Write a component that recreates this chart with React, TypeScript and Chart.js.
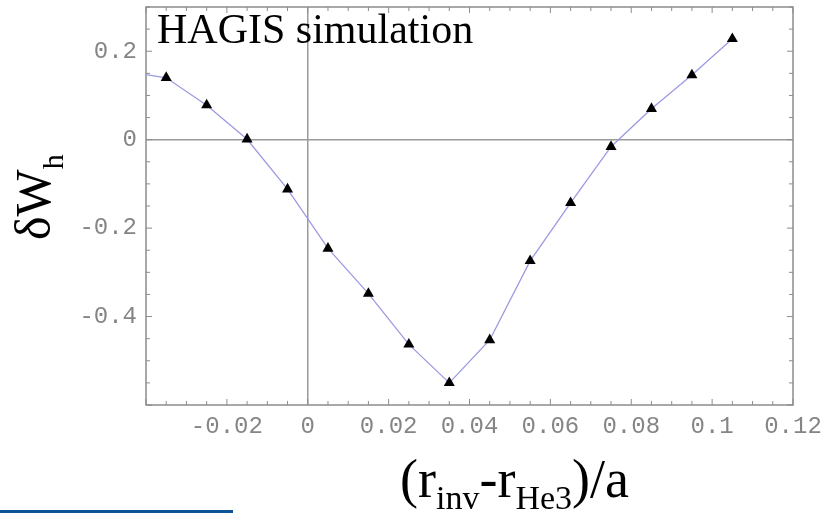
import React, { useEffect, useRef } from "react";
import { Chart, registerables } from "chart.js";

Chart.register(...registerables);

// ---- data ----
const xValues = [-0.035, -0.025, -0.015, -0.005, 0.005, 0.015, 0.025, 0.035, 0.045, 0.055, 0.065, 0.075, 0.085, 0.095, 0.105];
const yValues = [0.140, 0.078, 0.001, -0.112, -0.246, -0.348, -0.463, -0.550, -0.453, -0.274, -0.143, -0.016, 0.070, 0.146, 0.228];
const curveStartX = -0.04;
const curveStartY = 0.147;
const xTickLabels = [-0.02, 0, 0.02, 0.04, 0.06, 0.08, 0.1, 0.12];
const yTickLabels = [0.2, 0, -0.2, -0.4];
const xRange = [-0.04, 0.12];
const yRange = [-0.6, 0.3];
const xMinorStep = 0.005;
const xMajorStep = 0.02;
const yMinorStep = 0.05;
const yMajorStep = 0.2;
const plotTitle = "HAGIS simulation";

const isMajor = (v: number, step: number) => Math.abs(v / step - Math.round(v / step)) < 1e-6;

const framePlugin = {
  id: "mmaFrame",
  beforeDatasetsDraw(chart: any) {
    const { ctx, chartArea: a, scales } = chart;
    const x = scales.x;
    const y = scales.y;
    ctx.save();
    ctx.strokeStyle = "#9a9a9a";
    ctx.lineWidth = 1.5;
    const x0 = x.getPixelForValue(0);
    const y0 = y.getPixelForValue(0);
    ctx.beginPath();
    ctx.moveTo(x0, a.top);
    ctx.lineTo(x0, a.bottom);
    ctx.moveTo(a.left, y0);
    ctx.lineTo(a.right, y0);
    ctx.stroke();
    ctx.strokeStyle = "#8c8c8c";
    ctx.lineWidth = 1.5;
    ctx.strokeRect(a.left, a.top, a.right - a.left, a.bottom - a.top);
    ctx.lineWidth = 1;
    ctx.beginPath();
    const nx = Math.round((xRange[1] - xRange[0]) / xMinorStep);
    for (let i = 0; i <= nx; i++) {
      const v = xRange[0] + i * xMinorStep;
      const px = x.getPixelForValue(v);
      const len = isMajor(v, xMajorStep) ? 6 : 4;
      ctx.moveTo(px, a.bottom);
      ctx.lineTo(px, a.bottom - len);
      ctx.moveTo(px, a.top);
      ctx.lineTo(px, a.top + len);
    }
    const ny = Math.round((yRange[1] - yRange[0]) / yMinorStep);
    for (let i = 0; i <= ny; i++) {
      const v = yRange[0] + i * yMinorStep;
      const py = y.getPixelForValue(v);
      const len = isMajor(v, yMajorStep) ? 6 : 4;
      ctx.moveTo(a.left, py);
      ctx.lineTo(a.left + len, py);
      ctx.moveTo(a.right, py);
      ctx.lineTo(a.right - len, py);
    }
    ctx.stroke();
    ctx.restore();
  },
  afterDraw(chart: any) {
    const { ctx } = chart;
    ctx.save();
    ctx.fillStyle = "#000";
    ctx.textBaseline = "alphabetic";
    ctx.textAlign = "left";
    ctx.font = '42px "Liberation Serif"';
    ctx.fillText(plotTitle, 157, 43);

    ctx.save();
    ctx.translate(50, 240);
    ctx.rotate(-Math.PI / 2);
    ctx.font = '50px "Liberation Serif"';
    ctx.fillText("\u03B4W", 0, 0);
    const w = ctx.measureText("\u03B4W").width;
    ctx.font = '30px "Liberation Serif"';
    ctx.fillText("h", w, 13);
    ctx.restore();

    const segs = [
      { t: "(r", sub: false },
      { t: "inv", sub: true },
      { t: "-r", sub: false },
      { t: "He3", sub: true },
      { t: ")/a", sub: false },
    ];
    let cx = 400;
    const base = 497;
    for (const s of segs) {
      ctx.font = s.sub ? '34px "Liberation Serif"' : '54px "Liberation Serif"';
      ctx.fillText(s.t, cx, s.sub ? base + 12 : base);
      cx += ctx.measureText(s.t).width;
    }
    ctx.restore();
  },
};

export default function App() {
  const ref = useRef<HTMLCanvasElement | null>(null);

  useEffect(() => {
    if (!ref.current) return;
    const linePts = [{ x: curveStartX, y: curveStartY }, ...xValues.map((x, i) => ({ x, y: yValues[i] }))];
    const markerPts = xValues.map((x, i) => ({ x, y: yValues[i] }));
    const tickFont = { family: '"Liberation Mono", monospace', size: 24 };
    const chart = new Chart(ref.current, {
      type: "scatter",
      data: {
        datasets: [
          {
            data: linePts,
            showLine: true,
            borderColor: "#9c9ae2",
            borderWidth: 1.3,
            pointRadius: 0,
            tension: 0,
            order: 2,
          },
          {
            data: markerPts,
            showLine: false,
            pointStyle: "triangle",
            pointRadius: 6.4,
            backgroundColor: "#000",
            borderColor: "#000",
            borderWidth: 0,
            order: 1,
          },
        ],
      },
      options: {
        animation: false,
        responsive: false,
        events: [],
        layout: { padding: { top: 7, right: 32, left: 0, bottom: 0 } },
        plugins: { legend: { display: false }, tooltip: { enabled: false }, title: { display: false } },
        scales: {
          x: {
            type: "linear",
            min: xRange[0],
            max: xRange[1],
            grid: { display: false, drawTicks: false },
            border: { display: false },
            afterBuildTicks: (s: any) => {
              s.ticks = xTickLabels.map((v) => ({ value: v }));
            },
            afterFit: (s: any) => {
              s.height = 108;
              s.paddingLeft = 0;
              s.paddingRight = 0;
            },
            ticks: {
              autoSkip: false,
              maxRotation: 0,
              padding: 7,
              color: "#858585",
              font: tickFont,
              callback: (v: any) => String(Number(v)),
            },
          },
          y: {
            type: "linear",
            min: yRange[0],
            max: yRange[1],
            grid: { display: false, drawTicks: false },
            border: { display: false },
            afterBuildTicks: (s: any) => {
              s.ticks = yTickLabels.map((v) => ({ value: v }));
            },
            afterFit: (s: any) => {
              s.width = 146;
              s.paddingTop = 0;
              s.paddingBottom = 0;
            },
            ticks: {
              autoSkip: false,
              padding: 9,
              color: "#858585",
              font: tickFont,
              callback: (v: any) => String(Number(v)),
            },
          },
        },
      },
      plugins: [framePlugin],
    } as any);
    return () => chart.destroy();
  }, []);

  return (
    <div style={{ position: "fixed", left: 0, top: 0, width: 825, height: 513, background: "#fff" }}>
      <canvas ref={ref} width={825} height={513} style={{ display: "block" }} />
      <div style={{ position: "absolute", left: 0, top: 510, width: 233, height: 3, background: "#0b5495" }} />
    </div>
  );
}
